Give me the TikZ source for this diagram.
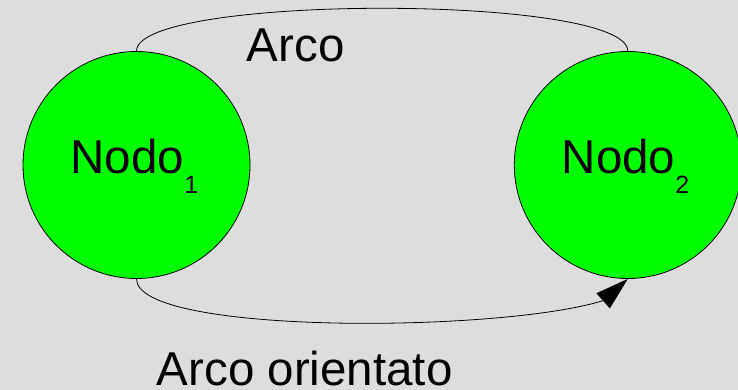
\documentclass[tikz,border=0pt]{standalone}
\usepackage{fontspec}
\setmainfont{Liberation Sans}
\usetikzlibrary{arrows.meta}
\definecolor{bgcol}{HTML}{DDDDDD}
\definecolor{nodegreen}{HTML}{00FF00}
\newcommand\nodosub[1]{\raisebox{-20pt}{\fontsize{25}{25}\selectfont #1}}
\begin{document}
\begin{tikzpicture}[x=1pt,y=-1pt,
  nodo/.style={circle,draw=black,fill=nodegreen,line width=0.8pt,minimum size=227pt,inner sep=0pt},
  lbl/.style={anchor=base west,inner sep=0pt,font=\fontsize{47.5}{47.5}\selectfont},
  conn/.style={draw=black,line width=0.8pt}]
\fill[bgcol] (0,0) rectangle (738,390);
\useasboundingbox (0,0) rectangle (738,390);
\clip (0,0) rectangle (738,390);
\node[nodo] (n1) at (136.5,165) {};
\node[nodo] (n2) at (627.8,165) {};
\node[lbl] (t1) at (70.5,173.3) {Nodo\nodosub{1}};
\node[lbl] (t2) at (561.5,173.3) {Nodo\nodosub{2}};
\draw[conn] (n1.north) .. controls (136.5,-6) and (627.8,-6) .. (n2.north);
\node[lbl] (la) at (246.7,61.7) {Arco};
\coordinate (ab) at (603.5,300.5);
\draw[conn,-{Triangle[length=33pt,width=20pt]}] (n1.south) .. controls (136.5,335) and (500,333) .. (ab) -- (n2.south);
\node[lbl] (lb) at (156.7,385) {Arco orientato};
\end{tikzpicture}
\end{document}
